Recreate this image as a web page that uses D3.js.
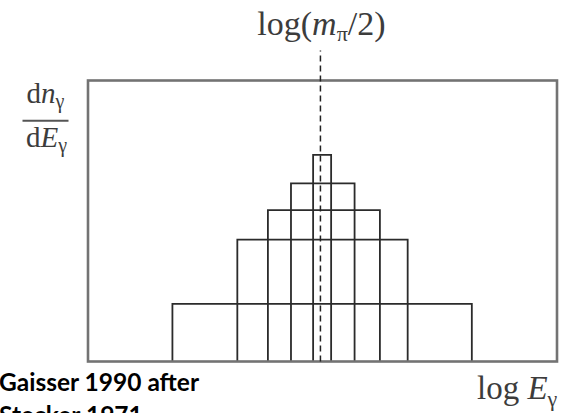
<!DOCTYPE html>
<html>
<head>
<meta charset="utf-8">
<script src="https://cdn.jsdelivr.net/npm/d3@7"></script>
<style>
  html, body { margin: 0; padding: 0; background: #fff; }
  svg { display: block; }
</style>
</head>
<body>
<svg id="chart" width="567" height="413"></svg>
<script>
// Photon spectrum from pi0 decays: each pion energy gives a flat box in
// dn/dE, symmetric in log E about log(m_pi/2).
const peakLogE = 1.829;                       // log10(m_pi/2 / MeV)
const boxLo    = [1.040, 1.386, 1.549, 1.672, 1.790];   // log10 E lower edge
const boxHi    = [2.636, 2.294, 2.146, 2.011, 1.886];   // log10 E upper edge
const boxLevel = [0.205, 0.434, 0.539, 0.634, 0.735];   // dn/dE (arbitrary units)
const xDomain  = [0.59, 3.09];
const yDomain  = [0, 1];

const svg = d3.select("#chart");
const margin = { left: 88, right: 10, top: 80.5, bottom: 51.5 };
const W = 567, H = 413;

const x = d3.scaleLinear().domain(xDomain).range([margin.left, W - margin.right]);
const y = d3.scaleLinear().domain(yDomain).range([H - margin.bottom, margin.top]);

const boxes = boxLo.map((lo, i) => ({ lo, hi: boxHi[i], v: boxLevel[i] }));

// boxes (open at the bottom, resting on the axis)
svg.append("g")
  .selectAll("path")
  .data(boxes)
  .join("path")
  .attr("d", d => {
    const p = d3.path();
    p.moveTo(x(d.lo), y(0));
    p.lineTo(x(d.lo), y(d.v));
    p.lineTo(x(d.hi), y(d.v));
    p.lineTo(x(d.hi), y(0));
    return p.toString();
  })
  .attr("fill", "none")
  .attr("stroke", "#2b2b2b")
  .attr("stroke-width", 1.8);

// frame
svg.append("rect")
  .attr("x", x(xDomain[0]))
  .attr("y", y(yDomain[1]))
  .attr("width", x(xDomain[1]) - x(xDomain[0]))
  .attr("height", y(yDomain[0]) - y(yDomain[1]))
  .attr("fill", "none")
  .attr("stroke", "#737373")
  .attr("stroke-width", 2.6);

// dashed marker at log(m_pi/2)
svg.append("line")
  .attr("x1", x(peakLogE)).attr("x2", x(peakLogE))
  .attr("y1", y(0)).attr("y2", y(yDomain[1]) - 30)
  .attr("stroke", "#222")
  .attr("stroke-width", 1.5)
  .attr("stroke-dasharray", "6,4");

const serif = "'Liberation Serif', 'DejaVu Serif', serif";
const ink = "#3c3c3c";

// marker label
const title = svg.append("text")
  .attr("x", x(peakLogE) + 1)
  .attr("y", 35)
  .attr("text-anchor", "middle")
  .attr("font-family", serif)
  .attr("font-size", 34)
  .attr("fill", ink);
title.append("tspan").text("log(");
title.append("tspan").attr("font-style", "italic").text("m");
title.append("tspan").attr("font-size", 22).attr("dy", 6).text("π");
title.append("tspan").attr("dy", -6).text("/2)");

// y label as a stacked fraction
const fracX = 45.5;
const num = svg.append("text")
  .attr("x", fracX).attr("y", 103)
  .attr("text-anchor", "middle")
  .attr("font-family", serif).attr("font-size", 29).attr("fill", ink);
num.append("tspan").text("d");
num.append("tspan").attr("font-style", "italic").text("n");
num.append("tspan").attr("font-size", 20).attr("dy", 5).text("γ");

svg.append("line")
  .attr("x1", 22.5).attr("x2", 68.5)
  .attr("y1", 120.7).attr("y2", 120.7)
  .attr("stroke", "#555").attr("stroke-width", 2);

const den = svg.append("text")
  .attr("x", fracX + 1).attr("y", 146.5)
  .attr("text-anchor", "middle")
  .attr("font-family", serif).attr("font-size", 29).attr("fill", ink);
den.append("tspan").text("d");
den.append("tspan").attr("font-style", "italic").text("E");
den.append("tspan").attr("font-size", 20).attr("dy", 5).text("γ");

// x label
const xl = svg.append("text")
  .attr("x", 477).attr("y", 399)
  .attr("font-family", serif).attr("font-size", 33).attr("fill", ink);
xl.append("tspan").text("log ");
xl.append("tspan").attr("font-style", "italic").text("E");
xl.append("tspan").attr("font-size", 22).attr("dy", 7).text("γ");

// source note
const note = svg.append("text")
  .attr("font-family", "Lato, 'Open Sans', sans-serif")
  .attr("font-weight", "bold")
  .attr("font-size", 24.5)
  .attr("fill", "#000");
note.append("tspan").attr("x", -1).attr("y", 391).text("Gaisser 1990 after");
note.append("tspan").attr("x", -1).attr("y", 424).text("Stecker 1971");
</script>
</body>
</html>
